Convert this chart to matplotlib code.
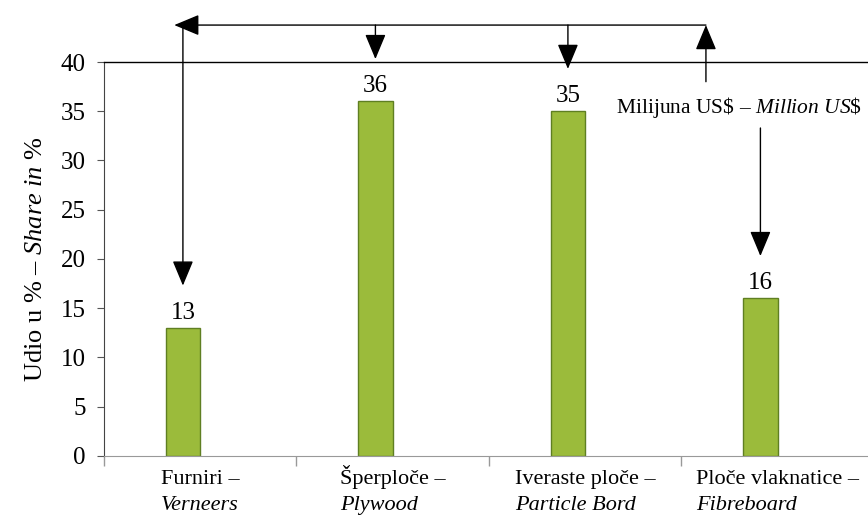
import numpy as np
import matplotlib.pyplot as plt

plt.rcParams['font.family'] = ['Liberation Serif', 'DejaVu Serif']
plt.rcParams['mathtext.fontset'] = 'custom'
plt.rcParams['mathtext.rm'] = 'Liberation Serif'
plt.rcParams['mathtext.it'] = 'Liberation Serif:italic'

# data
names_hr = ['Furniri', 'Šperploče', 'Iveraste ploče', 'Ploče vlaknatice']
names_en = ['Verneers', 'Plywood', 'Particle Bord', 'Fibreboard']
share = [13, 36, 35, 16]
yticks = [0, 5, 10, 15, 20, 25, 30, 35, 40]

x = np.arange(len(share))
bar_x = x - 0.09

fig = plt.figure(figsize=(8.68, 5.15), dpi=100)
ax = fig.add_axes([0.1198, 0.1146, 0.8871, 0.765])

ax.bar(bar_x, share, width=0.18, color='#9bbb3b', edgecolor='#5f7f22', linewidth=1)
ax.set_xlim(-0.5, 3.5)
ax.set_ylim(0, 40)
ax.set_yticks(yticks)
ax.set_xticks(np.arange(-0.5, 4, 1))
ax.set_xticklabels([])
ax.tick_params(axis='y', labelsize=18, length=5, pad=8, color='#555555')
ax.tick_params(axis='x', length=7, color='#999999', width=1)
ax.spines['top'].set_color('black')
ax.spines['top'].set_linewidth(1)
ax.spines['left'].set_color('#444444')
ax.spines['bottom'].set_color('#999999')
ax.spines['right'].set_visible(False)

ax.set_ylabel(r"Udio u % – $\it{Share\ in\ \%}$", fontsize=19, labelpad=10)

# value labels
for bx, v in zip(bar_x, share):
    ax.annotate(str(v), (bx, v), xytext=(0, 3), textcoords='offset points',
                ha='center', va='bottom', fontsize=18)

# category labels: first line centred, italic second line left-aligned with it
fig.canvas.draw()
r = fig.canvas.get_renderer()
xt = ax.get_xaxis_transform()
for i, (hr, en) in enumerate(zip(names_hr, names_en)):
    t1 = ax.text(i, -0.071, hr + ' –', transform=xt, ha='center', va='baseline', fontsize=16)
    bb = t1.get_window_extent(r)
    x0 = ax.transData.inverted().transform((bb.x0, 0))[0]
    ax.text(x0, -0.137, en, transform=xt, ha='left', va='baseline', fontsize=16,
            style='italic')

# arrows
head = '-|>,head_length=0.6,head_width=0.25'
aprops = dict(arrowstyle=head, color='black', lw=1, mutation_scale=26,
              shrinkA=0, shrinkB=0)
y_top = 43.75
up_x = 2.627
ax.annotate('', xy=(bar_x[0] - 0.045, y_top), xytext=(up_x, y_top),
            arrowprops=aprops, annotation_clip=False)
for i in range(3):
    ax.annotate('', xy=(bar_x[i], share[i] + 4.3), xytext=(bar_x[i], y_top),
                arrowprops=aprops, annotation_clip=False)
ax.annotate('', xy=(up_x, y_top), xytext=(up_x, 38),
            arrowprops=aprops, annotation_clip=False)

ax.text(2.80, 35.4, r"Milijuna US\$ – $\it{Million\ US\$}$", ha='center', va='center',
        fontsize=15.5)
ax.annotate('', xy=(bar_x[3], share[3] + 4.3), xytext=(bar_x[3], 33.3),
            arrowprops=aprops, annotation_clip=False)

fig.savefig('out.png', dpi=100)
